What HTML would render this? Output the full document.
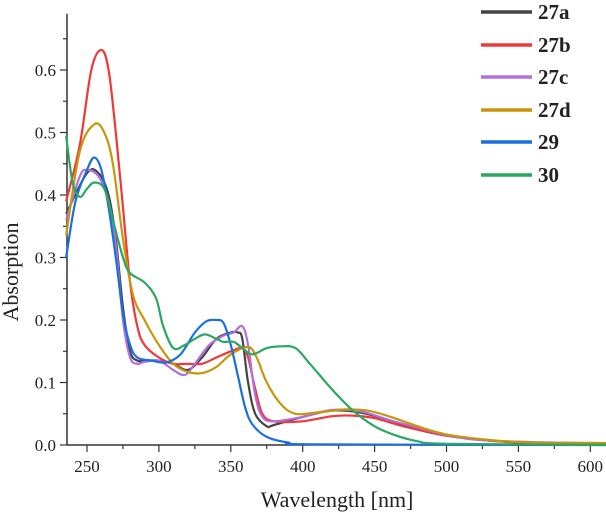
<!DOCTYPE html>
<html><head><meta charset="utf-8"><style>
html,body{margin:0;padding:0;background:#fff}
svg{display:block}
text{font-family:"Liberation Serif",serif;fill:#222}
</style></head><body>
<svg id="chart" width="606" height="517" viewBox="0 0 606 517" xmlns="http://www.w3.org/2000/svg">
<g id="axes"></g>
<g id="series"></g>
<g id="legend"></g>
<text x="337" y="507" font-size="22" text-anchor="middle">Wavelength [nm]</text>
<text transform="translate(18,272) rotate(-90)" font-size="22" text-anchor="middle">Absorption</text>
</svg>
<script>
const xTicks=[250,300,350,400,450,500,550,600];
const yTicks=[0.0,0.1,0.2,0.3,0.4,0.5,0.6];
const seriesNames=["27a","27b","27c","27d","29","30"];
const seriesColors=["#444444","#f03838","#b070e0","#c8960a","#1a6fe0","#2aa860"];
const wl27a=[235,250,258,265,270,275,280,285,290,300,310,320,330,340,350,355,358,362,367,375,380,400,420,440,460,480,500,530,560,612];
const ab27a=[0.37,0.435,0.435,0.40,0.33,0.22,0.15,0.135,0.135,0.135,0.13,0.12,0.14,0.17,0.18,0.18,0.17,0.10,0.05,0.03,0.032,0.045,0.055,0.052,0.04,0.025,0.015,0.007,0.003,0.002];
const wl27b=[235,245,253,260,265,270,275,280,285,290,300,310,320,330,340,350,358,362,367,372,380,400,420,435,450,470,500,530,560,612];
const ab27b=[0.39,0.48,0.60,0.632,0.60,0.50,0.38,0.26,0.19,0.16,0.14,0.13,0.13,0.13,0.14,0.15,0.155,0.14,0.09,0.05,0.038,0.038,0.046,0.047,0.043,0.03,0.015,0.007,0.004,0.003];
const wl27c=[235,245,250,258,265,270,275,280,285,290,300,310,318,325,335,345,352,358,362,367,372,380,400,420,440,460,480,500,530,612];
const ab27c=[0.36,0.43,0.44,0.43,0.39,0.32,0.20,0.14,0.13,0.133,0.135,0.12,0.112,0.13,0.16,0.175,0.18,0.19,0.16,0.08,0.045,0.038,0.045,0.056,0.054,0.04,0.028,0.016,0.007,0.002];
const wl27d=[235,245,255,262,268,275,282,290,300,310,320,330,340,350,362,368,375,385,395,410,430,445,460,480,500,530,560,612];
const ab27d=[0.335,0.47,0.513,0.50,0.45,0.33,0.24,0.20,0.16,0.13,0.117,0.115,0.125,0.145,0.157,0.14,0.10,0.065,0.05,0.052,0.057,0.055,0.046,0.03,0.017,0.008,0.004,0.003];
const wl29=[235,242,250,255,260,265,270,275,280,285,295,305,315,325,333,340,345,350,355,360,365,375,390,410,612];
const ab29=[0.30,0.39,0.44,0.46,0.44,0.38,0.30,0.21,0.16,0.14,0.135,0.132,0.145,0.18,0.198,0.20,0.195,0.16,0.11,0.06,0.033,0.013,0.004,0.001,0.0];
const wl30=[235,240,245,250,255,262,268,275,280,290,298,303,310,318,325,332,340,345,352,358,365,375,385,395,405,420,435,450,465,480,500,612];
const ab30=[0.495,0.42,0.397,0.41,0.42,0.41,0.36,0.30,0.275,0.26,0.235,0.19,0.155,0.16,0.17,0.177,0.17,0.165,0.165,0.155,0.145,0.155,0.158,0.155,0.13,0.09,0.055,0.03,0.015,0.006,0.002,0.0];
const allWl=[wl27a,wl27b,wl27c,wl27d,wl29,wl30];
const allAb=[ab27a,ab27b,ab27c,ab27d,ab29,ab30];

const NS="http://www.w3.org/2000/svg";
const X0=67,Y0=445,XMIN=235.5,XMAX=612,YMAX=0.69;
const sx=v=>87+(v-250)*(71.9/50);
const sy=v=>445-v*625;
function mk(tag,attrs,parent){const e=document.createElementNS(NS,tag);for(const k in attrs)e.setAttribute(k,attrs[k]);parent.appendChild(e);return e;}
const axes=document.getElementById('axes');
let ax=mk('line',{x1:X0,y1:Y0,x2:606,y2:Y0,stroke:'#333','stroke-width':1.5},axes);


let ay=mk('line',{x1:X0,y1:Y0,x2:X0,y2:sy(YMAX),stroke:'#333','stroke-width':1.5},axes);


for(let v=250;v<=600;v+=25){const major=v%50===0;const t=mk('line',{x1:sx(v),x2:sx(v),y1:Y0,y2:Y0+(major?7:4),stroke:'#333','stroke-width':1.2},axes);

}
xTicks.forEach(v=>{const t=mk('text',{x:sx(v),y:Y0+27,'font-size':17,'text-anchor':'middle'},axes);t.textContent=v;

});
for(let i=0;i<=13;i++){const v=i*0.05;const major=i%2===0;const t=mk('line',{x1:X0,x2:X0-(major?7:4),y1:sy(v),y2:sy(v),stroke:'#333','stroke-width':1.2},axes);

}
yTicks.forEach(v=>{const t=mk('text',{x:X0-11,y:sy(v)+6,'font-size':17,'text-anchor':'end'},axes);t.textContent=v.toFixed(1);

});
function pathFor(wl,ab){const p=wl.map((w,i)=>[sx(Math.min(Math.max(w,XMIN),XMAX)),sy(ab[i])]);
let d='M'+p[0][0].toFixed(1)+','+p[0][1].toFixed(1);
for(let i=0;i<p.length-1;i++){const a=p[Math.max(i-1,0)],b=p[i],c=p[i+1],e=p[Math.min(i+2,p.length-1)];
const c1=[b[0]+(c[0]-a[0])/6,b[1]+(c[1]-a[1])/6],c2=[c[0]-(e[0]-b[0])/6,c[1]-(e[1]-b[1])/6];
d+=`C${c1[0].toFixed(1)},${c1[1].toFixed(1)} ${c2[0].toFixed(1)},${c2[1].toFixed(1)} ${c[0].toFixed(1)},${c[1].toFixed(1)}`;}
return d;}
const sg=document.getElementById('series');
const lg=document.getElementById('legend');
const legY=[12,45,77,110,142,175];
seriesNames.forEach((n,i)=>{
const p=mk('path',{d:pathFor(allWl[i],allAb[i]),fill:'none',stroke:seriesColors[i],'stroke-width':2.2,'stroke-linejoin':'round'},sg);


const l=mk('line',{x1:481,x2:532,y1:legY[i],y2:legY[i],stroke:seriesColors[i],'stroke-width':3.5},lg);


const t=mk('text',{x:538,y:legY[i]+7,'font-size':21,'font-weight':'bold'},lg);t.textContent=n;


});
</script>
</body></html>
